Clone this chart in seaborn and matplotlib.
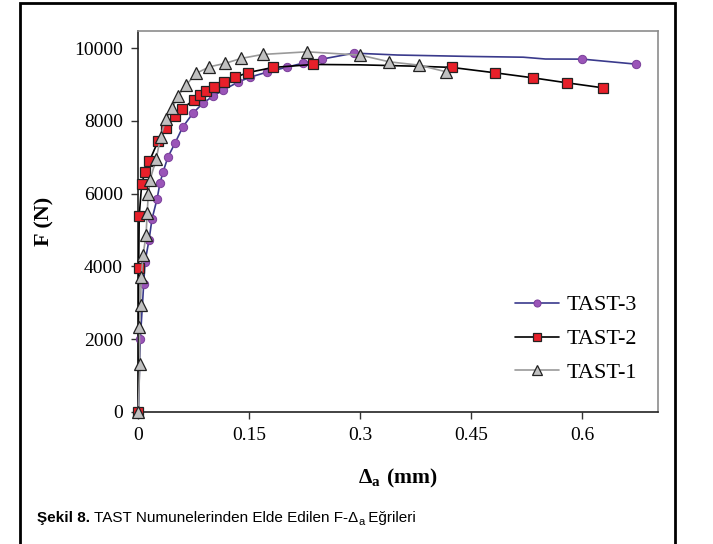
import matplotlib
matplotlib.use("Agg")
import matplotlib.pyplot as plt
from matplotlib.patches import Rectangle
import seaborn as sns
import pandas as pd

# TAST-3 (circles); some points on the flat part have no marker
x3 = [0.0, 0.0027, 0.0073, 0.009, 0.0145, 0.0185, 0.0253, 0.0293, 0.0334, 0.040,
      0.0496, 0.060, 0.0739, 0.0874, 0.101, 0.1145, 0.1347, 0.151, 0.174, 0.2009,
      0.2226, 0.248, 0.2915, 0.35, 0.45, 0.52, 0.55, 0.60, 0.672]
y3 = [0, 2005, 3516, 4120, 4725, 5302, 5851, 6291, 6593, 7005,
      7390, 7829, 8214, 8488, 8680, 8845, 9065, 9202, 9340, 9477,
      9587, 9697, 9862, 9810, 9770, 9750, 9700, 9697, 9560]
m3 = [True] * 23 + [False, False, False, False, True, True]

# TAST-2 (squares)
x2 = [0.0, 0.0005, 0.0012, 0.0046, 0.009, 0.015, 0.027, 0.0374, 0.0496, 0.0586,
      0.0747, 0.0834, 0.091, 0.1023, 0.1162, 0.1307, 0.1476, 0.1824, 0.2365,
      0.30, 0.38, 0.4236, 0.482, 0.5328, 0.579, 0.6275]
y2 = [0, 3950, 5384, 6263, 6593, 6895, 7458, 7793, 8131, 8323,
      8571, 8708, 8818, 8936, 9073, 9194, 9326, 9469, 9551,
      9540, 9500, 9469, 9321, 9184, 9046, 8909]
m2 = [True] * 19 + [False, False] + [True] * 5

# TAST-1 (triangles)
x1 = [0.0, 0.002, 0.0015, 0.003, 0.004, 0.0065, 0.0105, 0.012, 0.0135, 0.0158,
      0.024, 0.0303, 0.037, 0.046, 0.0532, 0.0645, 0.078, 0.096, 0.117, 0.1388,
      0.168, 0.228, 0.300, 0.339, 0.379, 0.416]
y1 = [0, 1330, 2340, 2939, 3712, 4313, 4876, 5475, 5980, 6373,
      6942, 7563, 8040, 8342, 8680, 8983, 9304, 9486, 9579, 9716,
      9826, 9898, 9807, 9623, 9532, 9348]

x_ticks = [0, 0.15, 0.3, 0.45, 0.6]
x_tick_labels = ["0", "0.15", "0.3", "0.45", "0.6"]
y_ticks = [0, 2000, 4000, 6000, 8000, 10000]

sns.set_style("white")
plt.rcParams["font.family"] = ["Liberation Serif", "DejaVu Serif"]
plt.rcParams["mathtext.fontset"] = "custom"
plt.rcParams["mathtext.rm"] = "Liberation Serif"
plt.rcParams["mathtext.bf"] = "Liberation Serif:bold"
plt.rcParams["text.color"] = "black"
plt.rcParams["axes.labelcolor"] = "black"
plt.rcParams["xtick.color"] = "black"
plt.rcParams["ytick.color"] = "black"

fig = plt.figure(figsize=(7.13, 5.44), dpi=100)
ax = fig.add_axes([138.3 / 713, 1 - 412 / 544, (658 - 138.3) / 713, (412 - 31) / 544])

df3 = pd.DataFrame({"x": x3, "y": y3})
df2 = pd.DataFrame({"x": x2, "y": y2})
df1 = pd.DataFrame({"x": x1, "y": y1})

sns.lineplot(data=df3, x="x", y="y", ax=ax, sort=False, estimator=None,
             color="#3a3a8c", lw=1.2, marker="o", markersize=6,
             markerfacecolor="#9a55b8", markeredgecolor="#7a3f9a", markeredgewidth=0.7,
             markevery=m3, label="TAST-3", clip_on=False, zorder=3)
sns.lineplot(data=df2, x="x", y="y", ax=ax, sort=False, estimator=None,
             color="black", lw=1.2, marker="s", markersize=6.5,
             markerfacecolor="#e8202a", markeredgecolor="#222222", markeredgewidth=0.9,
             markevery=m2, label="TAST-2", clip_on=False, zorder=4)
sns.lineplot(data=df1, x="x", y="y", ax=ax, sort=False, estimator=None,
             color="#9a9a9a", lw=1.2, marker="^", markersize=8,
             markerfacecolor="#c0c0c0", markeredgecolor="#222222", markeredgewidth=0.9,
             label="TAST-1", clip_on=False, zorder=5)

ax.set_xlim(0, 0.702)
ax.set_ylim(0, 10470)
ax.set_xticks(x_ticks)
ax.set_xticklabels(x_tick_labels)
ax.set_yticks(y_ticks)
ax.tick_params(axis="both", direction="out", length=5, width=1, color="#333333",
               labelsize=14, labelcolor="black", left=True, bottom=True, pad=6)
for s in ["left", "bottom"]:
    ax.spines[s].set_color("#222222")
    ax.spines[s].set_linewidth(1.2)
for s in ["top", "right"]:
    ax.spines[s].set_color("#8c8c8c")
    ax.spines[s].set_linewidth(1.2)

ax.set_ylabel("F (N)", fontsize=16, fontweight="bold", labelpad=14)
ax.set_xlabel(r"$\mathbf{\Delta_{a}\ (mm)}$", fontsize=15.5, labelpad=16)

leg = ax.legend(loc="center left", bbox_to_anchor=(515 / 713, 1 - 339 / 544),
                bbox_transform=fig.transFigure, frameon=False, fontsize=16,
                handlelength=2.0, handletextpad=0.3, labelspacing=0.6,
                borderpad=0, borderaxespad=0, markerscale=0.85)
for t in leg.get_texts():
    t.set_color("black")

# outer figure frame
fig.add_artist(Rectangle((20 / 713, -0.05), (675 - 20) / 713, 1.05 - 3 / 544,
                         transform=fig.transFigure, fill=False, lw=2,
                         edgecolor="black"))

# caption with bold prefix and subscript
cap_font = ["Liberation Sans Narrow", "Liberation Sans", "DejaVu Sans"]
renderer = fig.canvas.get_renderer()
y_cap = 1 - 518 / 544
x_pos = 37 / 713
parts = [("Şekil 8.", "bold", 11, 0), (" TAST Numunelerinden Elde Edilen F-Δ", "normal", 11, 0),
         ("a", "normal", 8, -0.007), (" Eğrileri", "normal", 11, 0)]
for txt, weight, size, dy in parts:
    t = fig.text(x_pos, y_cap + dy, txt, family=cap_font, fontweight=weight,
                 fontsize=size, va="center", ha="left", color="black")
    bb = t.get_window_extent(renderer=renderer)
    x_pos += bb.width / fig.bbox.width

fig.savefig("out.png", dpi=100)
